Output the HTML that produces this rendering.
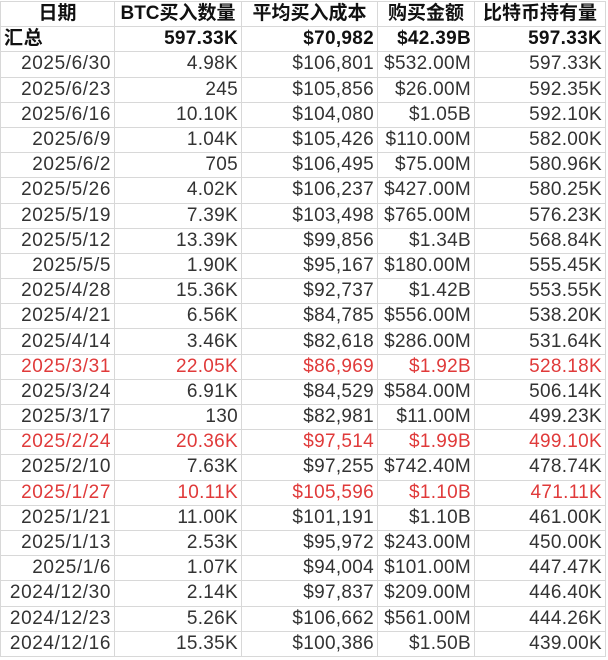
<!DOCTYPE html>
<html><head><meta charset="utf-8"><style>
html,body{margin:0;padding:0;background:#fff;width:608px;height:660px;overflow:hidden}
table{border-collapse:collapse;table-layout:fixed;position:absolute;left:0;top:1px;font-family:"Liberation Sans","Noto Sans CJK SC",sans-serif;font-size:19px;color:#333}
td{height:24.2px;border:1px solid #d8d8d8;padding:0 3px;text-align:right;white-space:nowrap;overflow:hidden;line-height:24px}
td:not(:first-child){letter-spacing:0.3px}
tr td:first-child{letter-spacing:0.6px}
tr.h td{text-align:center;font-weight:bold;color:#111;letter-spacing:0}
tr.s td{font-weight:bold;color:#111}
tr.s td:first-child{text-align:left}
tr.r td{color:#e03a3a}
</style></head><body>
<table>
<colgroup><col style="width:114px"><col style="width:127px"><col style="width:136px"><col style="width:97px"><col style="width:131px"></colgroup>
<tr class="h"><td>日期</td><td>BTC买入数量</td><td>平均买入成本</td><td>购买金额</td><td>比特币持有量</td></tr>
<tr class="s"><td>汇总</td><td>597.33K</td><td>$70,982</td><td>$42.39B</td><td>597.33K</td></tr>
<tr><td>2025/6/30</td><td>4.98K</td><td>$106,801</td><td>$532.00M</td><td>597.33K</td></tr>
<tr><td>2025/6/23</td><td>245</td><td>$105,856</td><td>$26.00M</td><td>592.35K</td></tr>
<tr><td>2025/6/16</td><td>10.10K</td><td>$104,080</td><td>$1.05B</td><td>592.10K</td></tr>
<tr><td>2025/6/9</td><td>1.04K</td><td>$105,426</td><td>$110.00M</td><td>582.00K</td></tr>
<tr><td>2025/6/2</td><td>705</td><td>$106,495</td><td>$75.00M</td><td>580.96K</td></tr>
<tr><td>2025/5/26</td><td>4.02K</td><td>$106,237</td><td>$427.00M</td><td>580.25K</td></tr>
<tr><td>2025/5/19</td><td>7.39K</td><td>$103,498</td><td>$765.00M</td><td>576.23K</td></tr>
<tr><td>2025/5/12</td><td>13.39K</td><td>$99,856</td><td>$1.34B</td><td>568.84K</td></tr>
<tr><td>2025/5/5</td><td>1.90K</td><td>$95,167</td><td>$180.00M</td><td>555.45K</td></tr>
<tr><td>2025/4/28</td><td>15.36K</td><td>$92,737</td><td>$1.42B</td><td>553.55K</td></tr>
<tr><td>2025/4/21</td><td>6.56K</td><td>$84,785</td><td>$556.00M</td><td>538.20K</td></tr>
<tr><td>2025/4/14</td><td>3.46K</td><td>$82,618</td><td>$286.00M</td><td>531.64K</td></tr>
<tr class="r"><td>2025/3/31</td><td>22.05K</td><td>$86,969</td><td>$1.92B</td><td>528.18K</td></tr>
<tr><td>2025/3/24</td><td>6.91K</td><td>$84,529</td><td>$584.00M</td><td>506.14K</td></tr>
<tr><td>2025/3/17</td><td>130</td><td>$82,981</td><td>$11.00M</td><td>499.23K</td></tr>
<tr class="r"><td>2025/2/24</td><td>20.36K</td><td>$97,514</td><td>$1.99B</td><td>499.10K</td></tr>
<tr><td>2025/2/10</td><td>7.63K</td><td>$97,255</td><td>$742.40M</td><td>478.74K</td></tr>
<tr class="r"><td>2025/1/27</td><td>10.11K</td><td>$105,596</td><td>$1.10B</td><td>471.11K</td></tr>
<tr><td>2025/1/21</td><td>11.00K</td><td>$101,191</td><td>$1.10B</td><td>461.00K</td></tr>
<tr><td>2025/1/13</td><td>2.53K</td><td>$95,972</td><td>$243.00M</td><td>450.00K</td></tr>
<tr><td>2025/1/6</td><td>1.07K</td><td>$94,004</td><td>$101.00M</td><td>447.47K</td></tr>
<tr><td>2024/12/30</td><td>2.14K</td><td>$97,837</td><td>$209.00M</td><td>446.40K</td></tr>
<tr><td>2024/12/23</td><td>5.26K</td><td>$106,662</td><td>$561.00M</td><td>444.26K</td></tr>
<tr><td>2024/12/16</td><td>15.35K</td><td>$100,386</td><td>$1.50B</td><td>439.00K</td></tr>
</table>
</body></html>
